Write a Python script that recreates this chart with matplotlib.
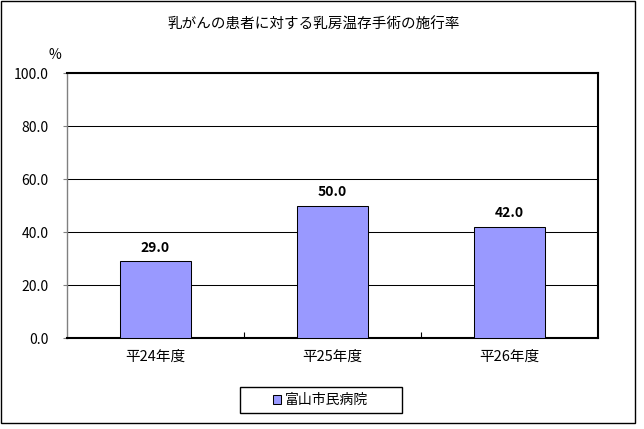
import matplotlib
matplotlib.use('Agg')
import matplotlib.pyplot as plt
from matplotlib.patches import Rectangle
from matplotlib.ticker import FixedLocator, FormatStrFormatter

plt.rcParams['font.family'] = ['Noto Sans CJK JP', 'DejaVu Sans']

title = '乳がんの患者に対する乳房温存手術の施行率'
categories = ['平24年度', '平25年度', '平26年度']
values = [29.0, 50.0, 42.0]
series_name = '富山市民病院'
y_ticks = [0, 20, 40, 60, 80, 100]

W, H = 644, 429
fig = plt.figure(figsize=(W / 100, H / 100), dpi=100)

# outer chart frame
fig.patches.append(Rectangle((1 / W, 1 - 423 / H), 634 / W, 422 / H,
                             transform=fig.transFigure, fill=False,
                             edgecolor='black', linewidth=1))

ax = fig.add_axes([66.7 / W, 1 - 338.3 / H, (598 - 66.7) / W, (338.3 - 73.3) / H])

x = range(len(categories))
bars = ax.bar(x, values, width=0.4, color='#9999FF', edgecolor='black',
              linewidth=0.75, label=series_name, zorder=3)
ax.bar_label(bars, labels=['%.1f' % v for v in values], padding=5,
             fontsize=10, fontweight='bold')

ax.set_xlim(-0.5, len(categories) - 0.5)
ax.set_ylim(0, 100)
ax.set_yticks(y_ticks)
ax.yaxis.set_major_formatter(FormatStrFormatter('%.1f'))
ax.set_xticks(list(x))
ax.set_xticklabels(categories)
ax.xaxis.set_minor_locator(FixedLocator([0.5, 1.5]))

ax.tick_params(axis='x', which='major', length=0, pad=8, labelsize=10.5)
ax.tick_params(axis='x', which='minor', direction='in', length=4,
               width=0.8, color='black')
ax.tick_params(axis='y', direction='out', length=3, width=0.8,
               color='#808080', pad=10, labelsize=10)

ax.yaxis.grid(True, color='black', linewidth=0.75, zorder=0)
ax.set_axisbelow(True)

for side in ['top', 'right', 'bottom']:
    ax.spines[side].set_color('black')
    ax.spines[side].set_linewidth(1.5)
ax.spines['left'].set_color('#808080')
ax.spines['left'].set_linewidth(1)

fig.text(313.5 / W, 1 - 25 / H, title, ha='center', va='center', fontsize=10.5)
fig.text(55 / W, 1 - 55 / H, '%', ha='center', va='center', fontsize=10)

# legend with a fixed box
fig.patches.append(Rectangle((240 / W, 1 - 413.3 / H), 161.7 / W, 26 / H,
                             transform=fig.transFigure, fill=False,
                             edgecolor='black', linewidth=1))
fig.legend(handles=[bars], labels=[series_name], loc='center',
           bbox_to_anchor=(320.8 / W, 1 - 400.3 / H), frameon=False,
           fontsize=10, handlelength=0.55, handleheight=0.55,
           handletextpad=0.3, borderpad=0)

fig.savefig('out.png', dpi=100)
